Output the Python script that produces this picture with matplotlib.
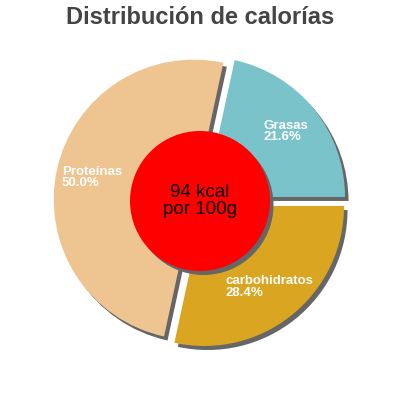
import numpy as np
import matplotlib
matplotlib.use("Agg")
import matplotlib.pyplot as plt
from matplotlib.patches import Wedge, Circle

title = "Distribución de calorías"
labels = ["Grasas", "Proteínas", "carbohidratos"]
values = [21.6, 50.0, 28.4]
colors = ["#7ac3cb", "#eec591", "#daa520"]
center_text = "94 kcal\npor 100g"

plt.rcParams['font.family'] = ['Liberation Sans', 'DejaVu Sans']

fig = plt.figure(figsize=(4, 4), dpi=100)
ax = fig.add_axes([0, 0, 1, 1])
R = 140.0

explode = [0.046] * len(values)
wedges, _ = ax.pie(values, colors=colors, startangle=0, counterclock=True,
                   explode=explode, radius=1.0, normalize=True,
                   wedgeprops=dict(linewidth=0, zorder=2))
ax.set_xlim(-200 / R, 200 / R)
ax.set_ylim(-199 / R, 201 / R)
ax.set_aspect('equal')
ax.axis('off')

sdx, sdy = 3.5 / R, -4.0 / R
for w in wedges:
    cx, cy = w.center
    sh = Wedge((cx + sdx, cy + sdy), w.r, w.theta1, w.theta2,
               facecolor="#666666", edgecolor="none", zorder=1)
    ax.add_patch(sh)

for w, lab, v in zip(wedges, labels, values):
    th = np.deg2rad((w.theta1 + w.theta2) / 2)
    cx, cy = w.center
    ax.text(cx + 0.745 * np.cos(th), cy + 0.745 * np.sin(th), f"{lab}\n{v:.1f}%",
            ha='center', va='center', multialignment='left', color='white',
            fontsize=9.5, fontweight='bold', linespacing=0.95, zorder=5)

ax.add_patch(Circle((sdx, sdy), 0.5, facecolor="#666666", edgecolor='none', zorder=3))
ax.add_patch(Circle((0, 0), 0.5, facecolor="#ff0000", edgecolor='none', zorder=4))
ax.text(0, 0, center_text, ha='center', va='center', fontsize=13.5,
        color='black', linespacing=1.0, zorder=6)

fig.text(0.5, 1 - 17 / 400, title, ha='center', va='center', fontsize=17,
         fontweight='bold', color='#444444')

fig.savefig("out.png", dpi=100)
